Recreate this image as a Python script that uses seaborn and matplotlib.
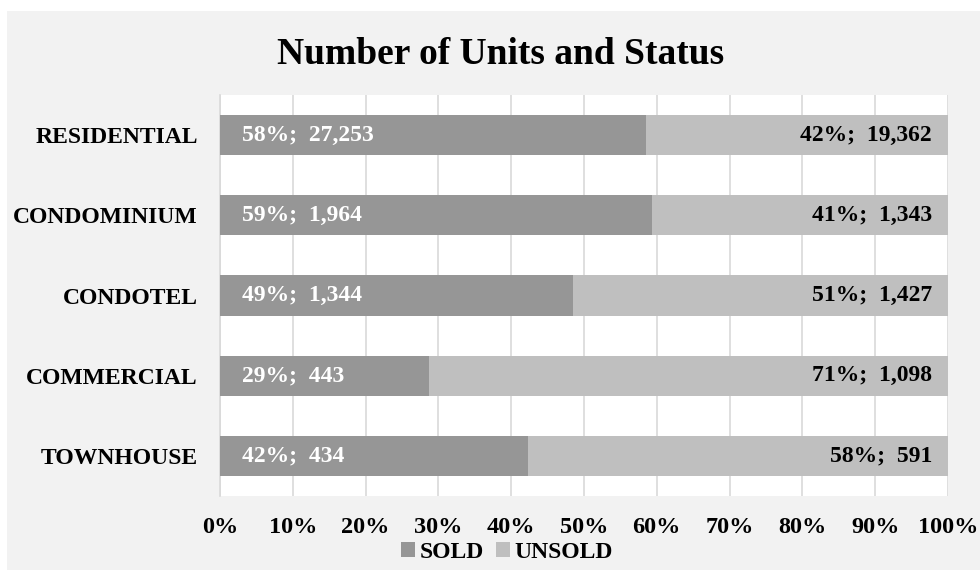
import matplotlib
matplotlib.use("Agg")
import matplotlib.pyplot as plt
import seaborn as sns
import pandas as pd
from matplotlib.patches import Rectangle, Patch

categories = ["RESIDENTIAL", "CONDOMINIUM", "CONDOTEL", "COMMERCIAL", "TOWNHOUSE"]
sold = [27253, 1964, 1344, 443, 434]
unsold = [19362, 1343, 1427, 1098, 591]
sold_pct_labels = ["58%", "59%", "49%", "29%", "42%"]
unsold_pct_labels = ["42%", "41%", "51%", "71%", "58%"]
xticks = [0, 0.1, 0.2, 0.3, 0.4, 0.5, 0.6, 0.7, 0.8, 0.9, 1.0]
xticklabels = ["0%", "10%", "20%", "30%", "40%", "50%", "60%", "70%", "80%", "90%", "100%"]

SOLD_C = "#969696"
UNSOLD_C = "#BFBFBF"

df = pd.DataFrame({"cat": categories, "sold": sold, "unsold": unsold})
df["total"] = df["sold"] + df["unsold"]
df["sold_frac"] = df["sold"] / df["total"]
df["full_frac"] = (df["sold"] + df["unsold"]) / df["total"]

sns.set_theme(style="white")
plt.rcParams["font.family"] = ["Liberation Serif", "DejaVu Serif"]
plt.rcParams["font.weight"] = "bold"
plt.rcParams["text.color"] = "black"
plt.rcParams["xtick.color"] = "black"
plt.rcParams["ytick.color"] = "black"

fig = plt.figure(figsize=(9.8, 5.71), dpi=100, facecolor="white")
fig.patches.append(Rectangle((7 / 980, 1 - 570 / 571), 1 - 7 / 980, (570 - 11) / 571,
                             transform=fig.transFigure, facecolor="#F2F2F2",
                             edgecolor="none", zorder=-10))
ax = fig.add_axes([220 / 980, 1 - 496 / 571, 728 / 980, 401 / 571])
ax.set_zorder(1)
ax.set_facecolor("white")

sns.barplot(data=df, y="cat", x="full_frac", orient="h", color=UNSOLD_C,
            width=0.5, ax=ax, saturation=1, zorder=3)
sns.barplot(data=df, y="cat", x="sold_frac", orient="h", color=SOLD_C,
            width=0.5, ax=ax, saturation=1, zorder=3)
for p in ax.patches:
    p.set_edgecolor("none")

ax.set_xlim(0, 1)
ax.set_ylim(4.5, -0.5)
ax.set_xticks(xticks)
ax.set_xticklabels(xticklabels)
ax.set_xlabel("")
ax.set_ylabel("")
ax.grid(axis="x", color="#D9D9D9", linewidth=1.2, zorder=0)
ax.set_axisbelow(True)
for s in ["top", "right", "bottom"]:
    ax.spines[s].set_visible(False)
ax.spines["left"].set_color("#D9D9D9")
ax.spines["left"].set_linewidth(1.2)
ax.tick_params(axis="x", length=0, pad=15, labelsize=17.5, labelcolor="black")
ax.tick_params(axis="y", length=0, pad=16, labelsize=17, labelcolor="black")
for lbl in ax.get_xticklabels() + ax.get_yticklabels():
    lbl.set_fontweight("bold")
    lbl.set_color("black")

for i in range(len(categories)):
    ax.text(0.03, i, f"{sold_pct_labels[i]};  {sold[i]:,}", color="white",
            fontsize=17, fontweight="bold", ha="left", va="center", zorder=5)
    ax.text(0.978, i, f"{unsold_pct_labels[i]};  {unsold[i]:,}", color="black",
            fontsize=17, fontweight="bold", ha="right", va="center", zorder=5)

fig.text(501 / 980, 1 - 55 / 571, "Number of Units and Status", ha="center",
         va="center", fontsize=27, fontweight="bold", color="black")

handles = [Patch(facecolor=SOLD_C, edgecolor="none", label="SOLD"),
           Patch(facecolor=UNSOLD_C, edgecolor="none", label="UNSOLD")]
fig.legend(handles=handles, loc="center", bbox_to_anchor=(507 / 980, 1 - 552 / 571),
           ncol=2, frameon=False, handlelength=0.6, handleheight=0.6,
           handletextpad=0.2, columnspacing=0.5, labelcolor="black",
           prop={"weight": "bold", "size": 17})

fig.savefig("out.png", dpi=100, facecolor="white")
